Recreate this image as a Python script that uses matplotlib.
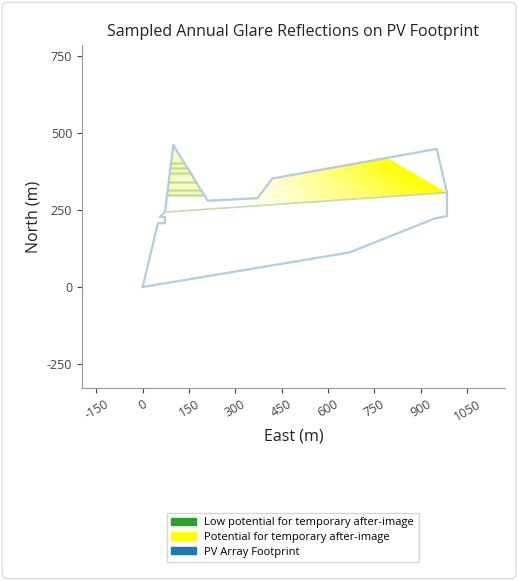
import numpy as np
import matplotlib.pyplot as plt
from matplotlib.patches import Patch, Polygon, FancyBboxPatch

plt.rcParams['font.family'] = ['Open Sans', 'DejaVu Sans']
plt.rcParams['axes.unicode_minus'] = False

# PV array footprint outline (east, north in m)
footprint_east = [0, 669, 947, 985, 985, 952, 420, 371, 210, 99, 72, 55, 72, 72, 49, 0]
footprint_north = [0, 112, 223, 230, 306, 448, 352, 288, 280, 461, 243, 227, 227, 207, 207, 0]

# glare in the small triangle: light fill plus sampled stripes
tri_east = [99, 78, 201]
tri_north = [461, 295, 295]
stripe_north = [403, 386, 370, 341, 315, 299]
stripe_west = [92, 89, 88, 84, 81, 79]
stripe_east = [134, 145, 155, 173, 189, 198]

# yellow glare fan on the main block
fan_east = [985, 794, 430, 260, 985]
fan_north = [306, 418, 354, 257, 306]

# faint green reflection line
line_east = [72, 985]
line_north = [243, 306]

fig = plt.figure(figsize=(5.18, 5.81), dpi=100)
ax = fig.add_axes([0.158, 0.332, 0.817, 0.591])

# gradient image clipped to the fan (fades to the west and toward the bottom)
gx = np.linspace(0, 1, 256) ** 1.1
gy = 0.55 + 0.45 * np.linspace(0, 1, 64)
img = np.zeros((64, 256, 4))
img[..., 0] = 1.0
img[..., 1] = 1.0
img[..., 3] = np.clip(np.outer(gy, gx) * 1.45, 0, 1)
im = ax.imshow(img, extent=[300, 985, 250, 420], origin='lower', aspect='auto',
               interpolation='bilinear', zorder=2)
fan_patch = Polygon(np.column_stack([fan_east, fan_north]), closed=True,
                    facecolor='none', edgecolor='none')
ax.add_patch(fan_patch)
im.set_clip_path(fan_patch)

ax.fill(tri_east, tri_north, color='#f4f7a0', alpha=0.6, lw=0, zorder=2)
for n, w, e in zip(stripe_north, stripe_west, stripe_east):
    ax.plot([w, e], [n, n], color='#9ccc5a', alpha=0.55, lw=1.8, zorder=3)

ax.plot(line_east, line_north, color='#a8d08d', alpha=0.7, lw=1.2, zorder=3)

ax.plot(footprint_east, footprint_north, color='#b3cde0', lw=1.6, zorder=4)

ax.set_xlim(-197, 1173)
ax.set_ylim(-328, 786)
ax.set_xticks(np.arange(-150, 1051, 150))
ax.set_yticks([-250, 0, 250, 500, 750])
ax.tick_params(axis='x', labelrotation=30, labelsize=9, colors='#444444')
ax.tick_params(axis='y', labelsize=9, colors='#444444')
for s in ['top', 'right']:
    ax.spines[s].set_visible(False)
for s in ['left', 'bottom']:
    ax.spines[s].set_color('#999999')

ax.set_title('Sampled Annual Glare Reflections on PV Footprint', fontsize=11.5, color='#222222')
ax.set_xlabel('East (m)', fontsize=11.5, color='#222222')
ax.set_ylabel('North (m)', fontsize=11.5, color='#222222')

handles = [Patch(color='#2ca02c', label='Low potential for temporary after-image'),
           Patch(color='#ffff00', label='Potential for temporary after-image'),
           Patch(color='#1f77b4', label='PV Array Footprint')]
fig.legend(handles=handles, loc='center', bbox_to_anchor=(0.565, 0.075), fontsize=8,
           frameon=True, edgecolor='#cccccc', fancybox=False, handlelength=2.2,
           handleheight=0.6, labelspacing=0.35)

fig.patches.append(FancyBboxPatch((0.004, 0.004), 0.992, 0.992,
                                  boxstyle='round,pad=0,rounding_size=0.01',
                                  transform=fig.transFigure, facecolor='none',
                                  edgecolor='#dddddd', lw=1))

fig.savefig('out.png', dpi=100)
